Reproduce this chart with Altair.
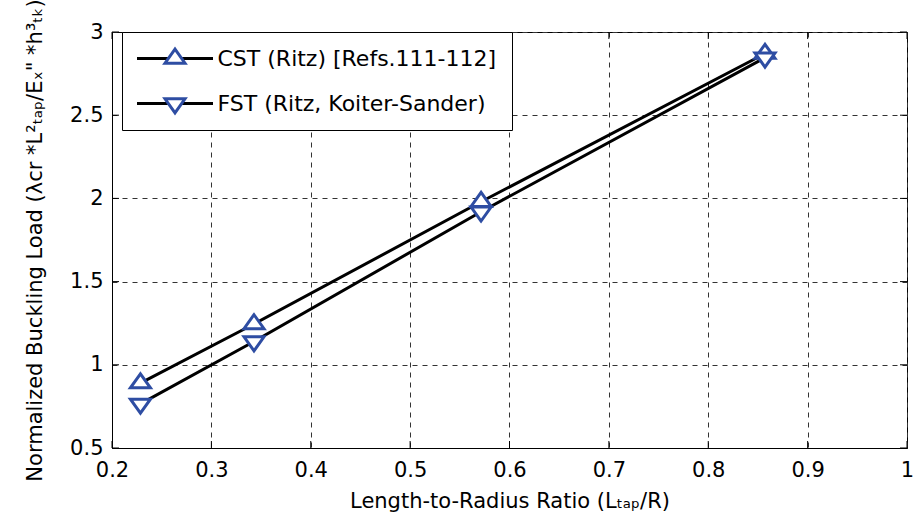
import altair as alt
import pandas as pd

# ---- data ----
x_ratio = [0.2286, 0.3429, 0.5714, 0.8571]
cst_values = [0.89, 1.245, 1.98, 2.87]
fst_values = [0.765, 1.14, 1.92, 2.845]
series_names = ["CST (Ritz) [Refs.111-112]", "FST (Ritz, Koiter-Sander)"]
x_ticks = [0.2, 0.3, 0.4, 0.5, 0.6, 0.7, 0.8, 0.9, 1.0]
y_ticks = [0.5, 1.0, 1.5, 2.0, 2.5, 3.0]

rows = []
for name, vals in zip(series_names, [cst_values, fst_values]):
    for xv, yv in zip(x_ratio, vals):
        rows.append({"ratio": xv, "load": yv, "series": name, "marker": name})
df = pd.DataFrame(rows)
xt_df = pd.DataFrame({"ratio": x_ticks})
yt_df = pd.DataFrame({"load": y_ticks})

W, H = 795, 416
FONT = "DejaVu Sans"
FS = 21
LEG_FS = 22
BLUE = "#2E4DA3"
UP = "M0,-0.93L-1,0.47L1,0.47Z"
DOWN = "M0,0.93L-1,-0.47L1,-0.47Z"
LINE_SYM = "M-3.8,0H3.8"

x_scale = alt.Scale(domain=[0.2, 1.0], nice=False, zero=False)
y_scale = alt.Scale(domain=[0.5, 3.0], nice=False, zero=False)

x_axis = alt.Axis(values=x_ticks, format="~g", labelFlush=False,
                  title="Length-to-Radius Ratio (Lₜₐₚ/R)",
                  labelPadding=11, titlePadding=10)
y_axis = alt.Axis(values=y_ticks, format="~g", labelFlush=False,
                  title='Normalized Buckling Load (λcr *L²ₜₐₚ/Eₓ" *h³ₜₖ)',
                  labelPadding=9, titlePadding=24)

line_legend = alt.Legend(
    title=None, orient="none", legendX=10, legendY=0,
    direction="vertical",
    symbolType=LINE_SYM, symbolSize=400, symbolStrokeWidth=3,
    symbolOffset=26.5, labelOffset=31,
    labelFont=FONT, labelFontSize=LEG_FS, labelColor="black", labelLimit=500,
    rowPadding=22, padding=15,
    strokeColor="black", fillColor="white", zindex=1,
)

marker_legend = alt.Legend(
    title=None, orient="none", legendX=10, legendY=0,
    direction="vertical",
    symbolSize=400, symbolStrokeWidth=3,
    symbolFillColor="white",
    symbolOffset=26.5, labelOffset=31,
    labelFont=FONT, labelFontSize=LEG_FS, labelOpacity=0, labelLimit=500,
    rowPadding=22, padding=15, zindex=2,
)

lines = alt.Chart(df).mark_line(strokeWidth=3).encode(
    x=alt.X("ratio:Q", scale=x_scale, axis=x_axis),
    y=alt.Y("load:Q", scale=y_scale, axis=y_axis),
    color=alt.Color(
        "series:N",
        scale=alt.Scale(range=["black", "black"]),
        legend=line_legend,
    ),
)

points = alt.Chart(df).mark_point(
    fill="white", fillOpacity=1, strokeWidth=3, size=400, opacity=1
).encode(
    x=alt.X("ratio:Q", scale=x_scale),
    y=alt.Y("load:Q", scale=y_scale),
    stroke=alt.Stroke("marker:N", scale=alt.Scale(range=[BLUE, BLUE]),
                      legend=marker_legend),
    shape=alt.Shape("marker:N", scale=alt.Scale(range=[UP, DOWN]),
                    legend=marker_legend),
)

tick_len = 7
x_ticks_bottom = alt.Chart(xt_df).mark_rule(color="black", strokeWidth=1).encode(
    x=alt.X("ratio:Q", scale=x_scale), y=alt.value(H), y2=alt.value(H - tick_len)
)
x_ticks_top = alt.Chart(xt_df).mark_rule(color="black", strokeWidth=1).encode(
    x=alt.X("ratio:Q", scale=x_scale), y=alt.value(0), y2=alt.value(tick_len)
)
y_ticks_left = alt.Chart(yt_df).mark_rule(color="black", strokeWidth=1).encode(
    y=alt.Y("load:Q", scale=y_scale), x=alt.value(0), x2=alt.value(tick_len)
)
y_ticks_right = alt.Chart(yt_df).mark_rule(color="black", strokeWidth=1).encode(
    y=alt.Y("load:Q", scale=y_scale), x=alt.value(W), x2=alt.value(W - tick_len)
)

chart = alt.layer(
    x_ticks_bottom, x_ticks_top, y_ticks_left, y_ticks_right, lines, points
).properties(
    width=W, height=H,
    autosize=alt.AutoSizeParams(type="none"),
    padding={"left": 112, "top": 32, "right": 6, "bottom": 75},
    background="white",
).configure_view(
    stroke="black", strokeWidth=1
).configure_axis(
    grid=True, gridColor="#333333", gridDash=[5, 5], gridWidth=1, gridOpacity=1,
    domainColor="black", domainWidth=1, tickSize=0,
    labelFont=FONT, labelFontSize=FS, labelColor="black",
    titleFont=FONT, titleFontSize=FS, titleColor="black", titleFontWeight="normal",
)

chart.save("out.html", embed_options={"renderer": "svg", "actions": False})
